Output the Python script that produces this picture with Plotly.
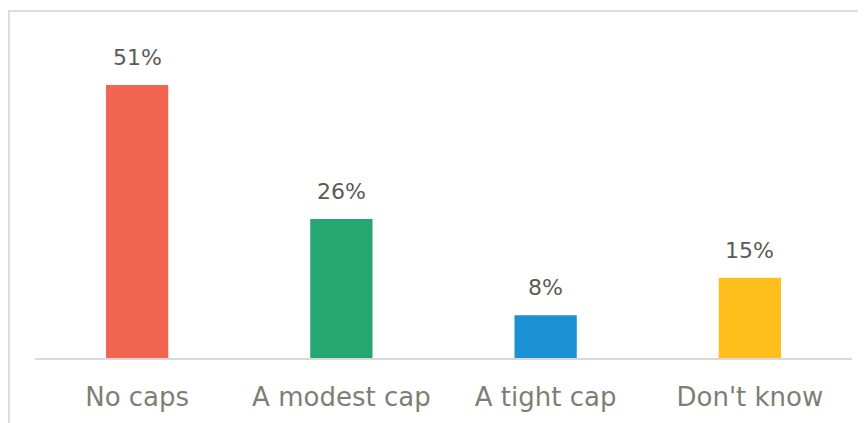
import plotly.graph_objects as go

categories = ["No caps", "A modest cap", "A tight cap", "Don't know"]
values = [51, 26, 8, 15]
labels = ["51%", "26%", "8%", "15%"]
colors = ["#F26552", "#26A771", "#1B91D3", "#FEBF1D"]

# page has 8px body margin, so figure coords = page coords - 8
OFF = 8
W, H = 866 - OFF, 423 - OFF
ml, mr, mt, mb = 35 - OFF, 14, 30 - OFF, 65
pw, ph = W - ml - mr, H - mt - mb

fig = go.Figure(go.Bar(
    x=categories, y=values, marker_color=colors, width=0.305,
    marker_line_width=0, hoverinfo="skip"))

for c, v, t in zip(categories, values, labels):
    fig.add_annotation(x=c, y=v, text=t, showarrow=False, yanchor="bottom",
                       yshift=13, font=dict(family="DejaVu Sans", size=22, color="#5a5b55"))

def px_x(p):
    return (p - OFF - ml) / pw

def px_y(p):
    return (H - mb - (p - OFF)) / ph

fig.add_shape(type="rect", xref="paper", yref="paper",
              x0=px_x(9), x1=px_x(890), y0=px_y(460), y1=px_y(11),
              line=dict(color="#dcdcdc", width=2), layer="below")

fig.update_layout(
    width=W, height=H, margin=dict(l=ml, r=mr, t=mt, b=mb),
    paper_bgcolor="white", plot_bgcolor="white", showlegend=False,
    xaxis=dict(showline=True, linecolor="#d9d9d9", linewidth=1.5, showgrid=False,
               ticks="outside", ticklen=15, tickcolor="rgba(0,0,0,0)",
               tickfont=dict(family="DejaVu Sans", size=26, color="#7d7f75"),
               fixedrange=True),
    yaxis=dict(range=[0, 61.3], visible=False, showgrid=False, fixedrange=True),
)

fig.write_html("out.html")
